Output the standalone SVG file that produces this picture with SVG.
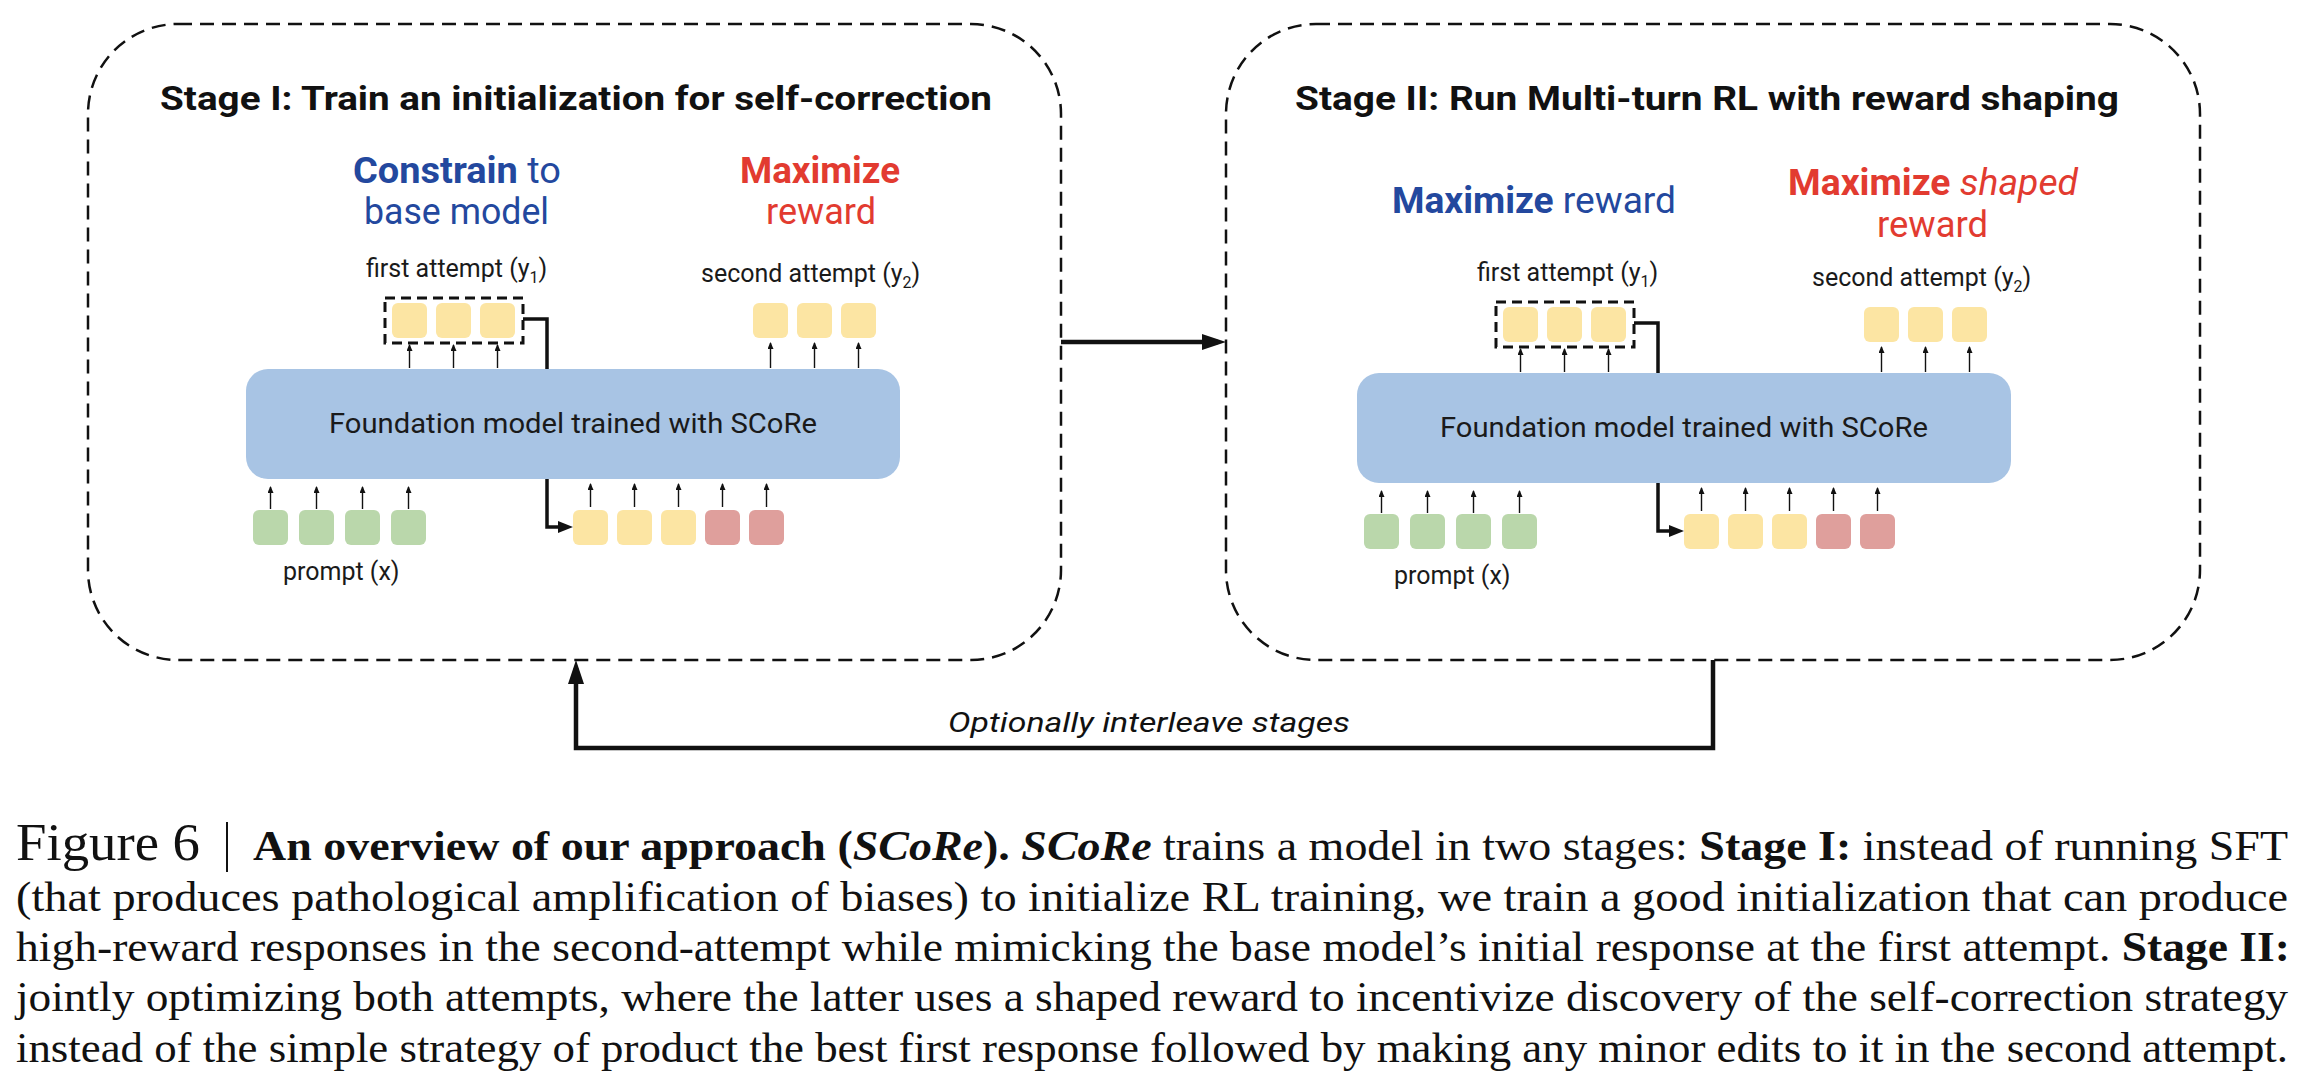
<svg xmlns="http://www.w3.org/2000/svg" width="2310" height="1080" viewBox="0 0 2310 1080">
<style>
  .sans { font-family: Roboto, "Open Sans", "Liberation Sans", sans-serif; }
  .serif { font-family: "Liberation Serif", "DejaVu Serif", serif; fill: #111; }
  .title { font-family: Roboto, "Liberation Sans", sans-serif; font-weight: bold; font-size: 34px; fill: #111; }
  .blue { fill: #23489e; font-size: 36px; }
  .red { fill: #e23b30; font-size: 36px; }
  .lbl { font-size: 25px; fill: #1a1a1a; }
  .model-text { font-size: 28px; fill: #1a1a1a; }
  .stage { fill: none; stroke: #111; stroke-width: 2.5; stroke-dasharray: 14 8; }
  .grp { fill: none; stroke: #111; stroke-width: 3; stroke-dasharray: 10 6; }
  .model { fill: #a8c4e4; }
  .tk-y { fill: #fce5a3; }
  .tk-g { fill: #bad7ab; }
  .tk-r { fill: #df9f9c; }
  .thin { stroke: #111; stroke-width: 1.4; fill: none; marker-end: url(#tip-s); }
  .conn { stroke: #111; stroke-width: 3.5; fill: none; marker-end: url(#tip-m); }
  .big { stroke: #111; stroke-width: 4.5; fill: none; stroke-linejoin: miter; marker-end: url(#tip-l); }
</style>
<defs>
  <marker id="tip-s" viewBox="0 0 7 6" markerWidth="7" markerHeight="6" refX="6" refY="3" markerUnits="userSpaceOnUse" orient="auto" preserveAspectRatio="none">
    <path d="M0,0 L7,3 L0,6 z" fill="#111"/>
  </marker>
  <marker id="tip-m" viewBox="0 0 15 12" markerWidth="15" markerHeight="12" refX="10" refY="6" markerUnits="userSpaceOnUse" orient="auto" preserveAspectRatio="none">
    <path d="M0,0 L15,6 L0,12 z" fill="#111"/>
  </marker>
  <marker id="tip-l" viewBox="0 0 24 16" markerWidth="24" markerHeight="16" refX="16" refY="8" markerUnits="userSpaceOnUse" orient="auto" preserveAspectRatio="none">
    <path d="M0,0 L24,8 L0,16 z" fill="#111"/>
  </marker>
</defs>
<rect width="2310" height="1080" fill="#fff"/>

<!-- Stage boxes -->
<g id="stage1">
  <rect class="stage" x="88" y="24" width="973" height="636" rx="90"/>
  <text class="title" x="160" y="110" textLength="832" lengthAdjust="spacingAndGlyphs">Stage I: Train an initialization for self-correction</text>
  <text class="sans blue" x="353" y="183" textLength="208" lengthAdjust="spacingAndGlyphs"><tspan font-weight="bold">Constrain</tspan> to</text>
  <text class="sans blue" x="364" y="224" textLength="185" lengthAdjust="spacingAndGlyphs">base model</text>
  <text class="sans red" x="740" y="183" font-weight="bold" textLength="160" lengthAdjust="spacingAndGlyphs">Maximize</text>
  <text class="sans red" x="766" y="224" textLength="110" lengthAdjust="spacingAndGlyphs">reward</text>
</g>
<g id="stage2">
  <rect class="stage" x="1226" y="24" width="974" height="636" rx="90"/>
  <text class="title" x="1295" y="110" textLength="824" lengthAdjust="spacingAndGlyphs">Stage II: Run Multi-turn RL with reward shaping</text>
  <text class="sans blue" x="1392" y="213" textLength="284" lengthAdjust="spacingAndGlyphs"><tspan font-weight="bold">Maximize</tspan> reward</text>
  <text class="sans red" x="1788" y="195" textLength="290" lengthAdjust="spacingAndGlyphs"><tspan font-weight="bold">Maximize</tspan> <tspan font-style="italic">shaped</tspan></text>
  <text class="sans red" x="1877" y="237" textLength="111" lengthAdjust="spacingAndGlyphs">reward</text>
</g>

<!-- Connectors between stages -->
<g id="connectors">
  <path class="big" d="M1061,342 H1218"/>
  <path class="big" d="M1713,660 V748 H576 V668"/>
  <text class="sans" x="948" y="732" font-size="28" font-style="italic" fill="#111" textLength="402" lengthAdjust="spacingAndGlyphs">Optionally interleave stages</text>
</g>

<!-- Stage I inner model -->
<g id="stage1-inner">
  <g id="s1-connectors">
    <path class="conn" d="M523,319 H547 V527 H568"/>
    <path class="thin" d="M409.5,368 V345"/>
    <path class="thin" d="M453.5,368 V345"/>
    <path class="thin" d="M497.5,368 V345"/>
    <path class="thin" d="M770.5,368 V343"/>
    <path class="thin" d="M814.5,368 V343"/>
    <path class="thin" d="M858.5,368 V343"/>
    <path class="thin" d="M270.5,509 V487"/>
    <path class="thin" d="M316.5,509 V487"/>
    <path class="thin" d="M362.5,509 V487"/>
    <path class="thin" d="M408.5,509 V487"/>
    <path class="thin" d="M590.5,507 V484"/>
    <path class="thin" d="M634.5,507 V484"/>
    <path class="thin" d="M678.5,507 V484"/>
    <path class="thin" d="M722.5,507 V484"/>
    <path class="thin" d="M766.5,507 V484"/>
  </g>
  <g id="s1-model">
    <rect class="model" x="246" y="369" width="654" height="110" rx="22"/>
    <text class="sans model-text" x="329" y="433" textLength="488" lengthAdjust="spacingAndGlyphs">Foundation model trained with SCoRe</text>
  </g>
  <g id="s1-first">
    <rect class="grp" x="385" y="298" width="138" height="45"/>
    <rect class="tk-y" x="392" y="303" width="35" height="35" rx="6"/>
    <rect class="tk-y" x="436" y="303" width="35" height="35" rx="6"/>
    <rect class="tk-y" x="480" y="303" width="35" height="35" rx="6"/>
    <text class="sans lbl" x="366" y="277">first attempt (y<tspan font-size="16" dy="6">1</tspan><tspan dy="-6">)</tspan></text>
  </g>
  <g id="s1-second">
    <rect class="tk-y" x="753" y="303" width="35" height="35" rx="6"/>
    <rect class="tk-y" x="797" y="303" width="35" height="35" rx="6"/>
    <rect class="tk-y" x="841" y="303" width="35" height="35" rx="6"/>
    <text class="sans lbl" x="701" y="282">second attempt (y<tspan font-size="16" dy="6">2</tspan><tspan dy="-6">)</tspan></text>
  </g>
  <g id="s1-prompt">
    <rect class="tk-g" x="253" y="510" width="35" height="35" rx="6"/>
    <rect class="tk-g" x="299" y="510" width="35" height="35" rx="6"/>
    <rect class="tk-g" x="345" y="510" width="35" height="35" rx="6"/>
    <rect class="tk-g" x="391" y="510" width="35" height="35" rx="6"/>
    <text class="sans lbl" x="283" y="580">prompt (x)</text>
  </g>
  <g id="s1-input">
    <rect class="tk-y" x="573" y="510" width="35" height="35" rx="6"/>
    <rect class="tk-y" x="617" y="510" width="35" height="35" rx="6"/>
    <rect class="tk-y" x="661" y="510" width="35" height="35" rx="6"/>
    <rect class="tk-r" x="705" y="510" width="35" height="35" rx="6"/>
    <rect class="tk-r" x="749" y="510" width="35" height="35" rx="6"/>
  </g>
</g>

<!-- Stage II inner model -->
<g id="stage2-inner" transform="translate(1111,4)">
  <g id="s2-connectors">
    <path class="conn" d="M523,319 H547 V527 H568"/>
    <path class="thin" d="M409.5,368 V345"/>
    <path class="thin" d="M453.5,368 V345"/>
    <path class="thin" d="M497.5,368 V345"/>
    <path class="thin" d="M770.5,368 V343"/>
    <path class="thin" d="M814.5,368 V343"/>
    <path class="thin" d="M858.5,368 V343"/>
    <path class="thin" d="M270.5,509 V487"/>
    <path class="thin" d="M316.5,509 V487"/>
    <path class="thin" d="M362.5,509 V487"/>
    <path class="thin" d="M408.5,509 V487"/>
    <path class="thin" d="M590.5,507 V484"/>
    <path class="thin" d="M634.5,507 V484"/>
    <path class="thin" d="M678.5,507 V484"/>
    <path class="thin" d="M722.5,507 V484"/>
    <path class="thin" d="M766.5,507 V484"/>
  </g>
  <g id="s2-model">
    <rect class="model" x="246" y="369" width="654" height="110" rx="22"/>
    <text class="sans model-text" x="329" y="433" textLength="488" lengthAdjust="spacingAndGlyphs">Foundation model trained with SCoRe</text>
  </g>
  <g id="s2-first">
    <rect class="grp" x="385" y="298" width="138" height="45"/>
    <rect class="tk-y" x="392" y="303" width="35" height="35" rx="6"/>
    <rect class="tk-y" x="436" y="303" width="35" height="35" rx="6"/>
    <rect class="tk-y" x="480" y="303" width="35" height="35" rx="6"/>
    <text class="sans lbl" x="366" y="277">first attempt (y<tspan font-size="16" dy="6">1</tspan><tspan dy="-6">)</tspan></text>
  </g>
  <g id="s2-second">
    <rect class="tk-y" x="753" y="303" width="35" height="35" rx="6"/>
    <rect class="tk-y" x="797" y="303" width="35" height="35" rx="6"/>
    <rect class="tk-y" x="841" y="303" width="35" height="35" rx="6"/>
    <text class="sans lbl" x="701" y="282">second attempt (y<tspan font-size="16" dy="6">2</tspan><tspan dy="-6">)</tspan></text>
  </g>
  <g id="s2-prompt">
    <rect class="tk-g" x="253" y="510" width="35" height="35" rx="6"/>
    <rect class="tk-g" x="299" y="510" width="35" height="35" rx="6"/>
    <rect class="tk-g" x="345" y="510" width="35" height="35" rx="6"/>
    <rect class="tk-g" x="391" y="510" width="35" height="35" rx="6"/>
    <text class="sans lbl" x="283" y="580">prompt (x)</text>
  </g>
  <g id="s2-input">
    <rect class="tk-y" x="573" y="510" width="35" height="35" rx="6"/>
    <rect class="tk-y" x="617" y="510" width="35" height="35" rx="6"/>
    <rect class="tk-y" x="661" y="510" width="35" height="35" rx="6"/>
    <rect class="tk-r" x="705" y="510" width="35" height="35" rx="6"/>
    <rect class="tk-r" x="749" y="510" width="35" height="35" rx="6"/>
  </g>
</g>

<!-- Caption -->
<g id="caption" class="serif">
  <text x="16" y="860" font-size="52" textLength="184" lengthAdjust="spacingAndGlyphs">Figure 6</text>
  <line x1="227" y1="822" x2="227" y2="872" stroke="#111" stroke-width="2"/>
  <text x="253" y="860" font-size="42" textLength="2035" lengthAdjust="spacingAndGlyphs"><tspan font-weight="bold">An overview of our approach (<tspan font-style="italic">SCoRe</tspan>). <tspan font-style="italic">SCoRe</tspan></tspan> trains a model in two stages: <tspan font-weight="bold">Stage I:</tspan> instead of running SFT</text>
  <text x="16" y="911" font-size="42" textLength="2272" lengthAdjust="spacingAndGlyphs">(that produces pathological amplification of biases) to initialize RL training, we train a good initialization that can produce</text>
  <text x="16" y="961" font-size="42" textLength="2274" lengthAdjust="spacingAndGlyphs">high-reward responses in the second-attempt while mimicking the base model’s initial response at the first attempt. <tspan font-weight="bold">Stage II:</tspan></text>
  <text x="16" y="1011" font-size="42" textLength="2272" lengthAdjust="spacingAndGlyphs">jointly optimizing both attempts, where the latter uses a shaped reward to incentivize discovery of the self-correction strategy</text>
  <text x="16" y="1062" font-size="42" textLength="2272" lengthAdjust="spacingAndGlyphs">instead of the simple strategy of product the best first response followed by making any minor edits to it in the second attempt.</text>
</g>
</svg>
